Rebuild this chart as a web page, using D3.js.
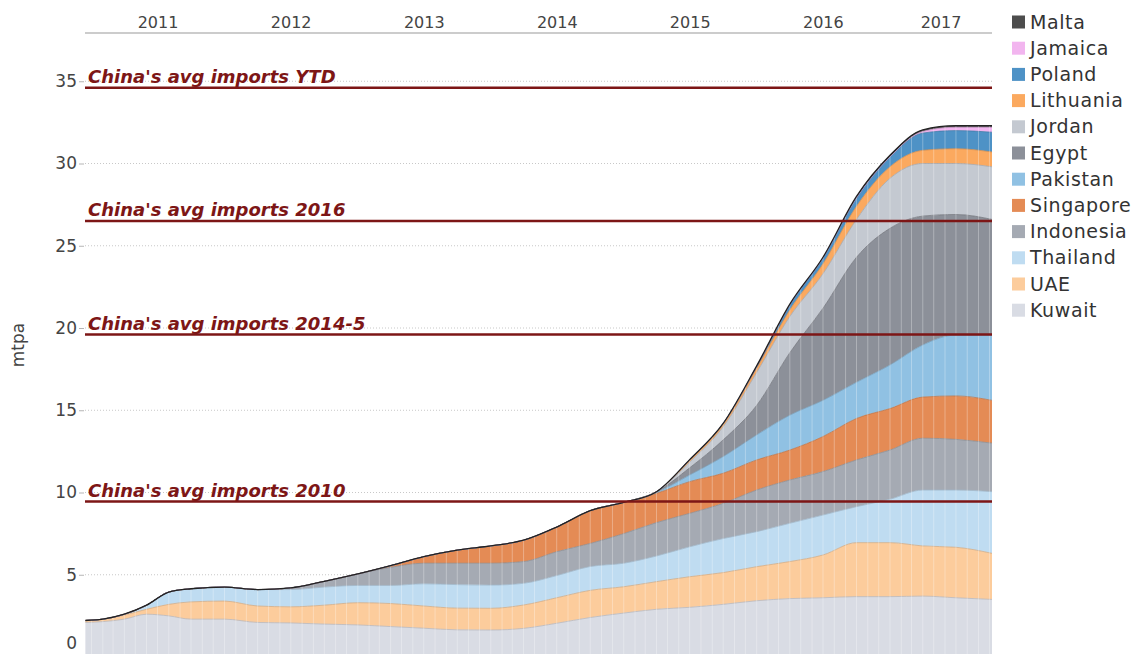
<!DOCTYPE html>
<html>
<head>
<meta charset="utf-8">
<script src="https://cdn.jsdelivr.net/npm/d3@7"></script>
<style>
  html, body { margin: 0; padding: 0; background: #fff; }
  #chartContainer { width: 1142px; height: 654px; }
  svg { display: block; }
</style>
</head>
<body>
<div id="chartContainer"></div>
<script>
// LNG exporters stacked by country, mtpa
const dates = [
  "2010-12-15", "2011-02-01", "2011-04-01", "2011-06-01", "2011-08-01", "2011-10-01",
  "2012-01-01", "2012-04-01", "2012-07-01", "2012-10-01", "2013-01-01", "2013-04-01",
  "2013-07-01", "2013-10-01", "2014-01-01", "2014-04-01", "2014-07-01", "2014-10-01",
  "2015-01-01", "2015-04-01", "2015-07-01", "2015-10-01", "2016-01-01", "2016-04-01",
  "2016-07-01", "2016-10-01", "2017-01-01", "2017-04-01", "2017-07-01", "2017-10-08"
];

// bottom -> top stacking order
const kuwait    = [2.1, 2.15, 2.3, 2.6, 2.5, 2.3, 2.3, 2.1, 2.07, 2.0, 1.95, 1.85, 1.75, 1.65, 1.64, 1.74, 2.05, 2.4, 2.67, 2.9, 3.02, 3.2, 3.42, 3.55, 3.6, 3.67, 3.67, 3.7, 3.6, 3.5];
const uae       = [0.12, 0.15, 0.25, 0.3, 0.7, 1.05, 1.1, 1.0, 0.98, 1.15, 1.35, 1.4, 1.35, 1.32, 1.32, 1.42, 1.55, 1.65, 1.6, 1.68, 1.86, 1.93, 2.07, 2.25, 2.6, 3.28, 3.28, 3.05, 3.07, 2.8];
const thailand  = [0, 0, 0.05, 0.25, 0.75, 0.8, 0.85, 1.0, 1.05, 1.1, 1.05, 1.1, 1.35, 1.43, 1.41, 1.32, 1.35, 1.45, 1.43, 1.56, 1.82, 2.07, 2.13, 2.33, 2.43, 2.19, 2.64, 3.4, 3.48, 3.75];
const indonesia = [0, 0, 0, 0, 0, 0, 0, 0, 0.1, 0.35, 0.7, 1.1, 1.25, 1.3, 1.33, 1.32, 1.45, 1.4, 1.8, 2.03, 2.03, 2.14, 2.53, 2.63, 2.64, 2.84, 2.99, 3.15, 3.08, 2.95];
const singapore = [0, 0, 0, 0, 0, 0, 0, 0, 0, 0, 0, 0.1, 0.4, 0.8, 1.05, 1.3, 1.5, 2.0, 1.9, 1.78, 1.93, 1.83, 1.83, 1.82, 2.13, 2.52, 2.52, 2.5, 2.64, 2.6];
const pakistan  = [0, 0, 0, 0, 0, 0, 0, 0, 0, 0, 0, 0, 0, 0, 0, 0, 0, 0, 0, 0.05, 0.4, 1.01, 1.52, 2.12, 2.2, 2.2, 2.65, 3.17, 3.7, 3.97];
const egypt     = [0, 0, 0, 0, 0, 0, 0, 0, 0, 0, 0, 0, 0, 0, 0, 0, 0, 0, 0, 0.05, 0.44, 1.02, 1.8, 3.8, 5.6, 7.6, 8.31, 7.83, 7.33, 7.03];
const jordan    = [0, 0, 0, 0, 0, 0, 0, 0, 0, 0, 0, 0, 0, 0, 0, 0, 0, 0, 0, 0, 0.35, 0.8, 2.0, 2.2, 2.1, 2.3, 3.04, 3.2, 3.1, 3.2];
const lithuania = [0, 0, 0, 0, 0, 0, 0, 0, 0, 0, 0, 0, 0, 0, 0, 0, 0, 0, 0, 0, 0.1, 0.15, 0.25, 0.4, 0.6, 0.8, 0.7, 0.8, 0.9, 0.9];
const poland    = [0, 0, 0, 0, 0, 0, 0, 0, 0, 0, 0, 0, 0, 0, 0, 0, 0, 0, 0, 0, 0.05, 0.05, 0.1, 0.3, 0.35, 0.5, 0.6, 1.05, 1.1, 1.2];
const jamaica   = [0, 0, 0, 0, 0, 0, 0, 0, 0, 0, 0, 0, 0, 0, 0, 0, 0, 0, 0, 0, 0, 0, 0, 0, 0, 0, 0, 0.1, 0.2, 0.3];
const malta     = [0, 0, 0, 0, 0, 0, 0, 0, 0, 0, 0, 0, 0, 0, 0, 0, 0, 0, 0, 0, 0, 0, 0.05, 0.05, 0.05, 0.1, 0.1, 0.1, 0.1, 0.1];

const countries = ["Kuwait", "UAE", "Thailand", "Indonesia", "Singapore", "Pakistan", "Egypt", "Jordan", "Lithuania", "Poland", "Jamaica", "Malta"];
const seriesValues = [kuwait, uae, thailand, indonesia, singapore, pakistan, egypt, jordan, lithuania, poland, jamaica, malta];
const colors = ["#d9dce4", "#fccc9c", "#bfdcf1", "#a5aab3", "#e48b55", "#90c1e3", "#8c9099", "#c4c9d1", "#fba95f", "#4e92c6", "#f2b5ef", "#4d4d4d"];

// reference lines
const refLabels = ["China's avg imports YTD", "China's avg imports 2016", "China's avg imports 2014-5", "China's avg imports 2010"];
const refValues = [34.6, 26.5, 19.6, 9.45];

const yearLabels = [2011, 2012, 2013, 2014, 2015, 2016, 2017];
const yTicks = [0, 5, 10, 15, 20, 25, 30, 35];

function createChart() {
    const INK = "#444";
    const RED = "#7d1616";
    const FONT = "DejaVu Sans, sans-serif";

    const width = 1142, height = 654;
    const left = 85, right = 992;

    const parse = d3.timeParse("%Y-%m-%d");
    const rows = dates.map((d, i) => {
        const row = { date: parse(d) };
        countries.forEach((c, k) => { row[c] = seriesValues[k][i]; });
        return row;
    });

    const x = d3.scaleTime()
        .domain([parse("2010-12-14"), parse("2017-10-08")])
        .range([left, right]);
    const y = d3.scaleLinear().domain([0, 35]).range([657, 81.25]);

    const svg = d3.select("#chartContainer").append("svg")
        .attr("width", width)
        .attr("height", height)
        .style("background", "#fff");

    // dotted gridlines
    svg.append("g")
        .selectAll("line")
        .data(yTicks.filter(t => t > 0))
        .enter()
        .append("line")
        .attr("x1", left).attr("x2", right)
        .attr("y1", d => y(d)).attr("y2", d => y(d))
        .attr("stroke", "#c8c8c8")
        .attr("stroke-width", 1)
        .attr("stroke-dasharray", "1,2");

    // stacked areas
    const stack = d3.stack().keys(countries);
    const layers = stack(rows);

    const area = d3.area()
        .x(d => x(d.data.date))
        .y0(d => y(d[0]))
        .y1(d => y(d[1]))
        .curve(d3.curveMonotoneX);

    const topLine = d3.line()
        .x(d => x(d.data.date))
        .y(d => y(d[1]))
        .curve(d3.curveMonotoneX);

    svg.append("defs").append("clipPath")
        .attr("id", "stackClip")
        .append("path")
        .attr("d", d3.area()
            .x(d => x(d.data.date))
            .y0(y(0))
            .y1(d => y(d[1]))
            .curve(d3.curveMonotoneX)(layers[layers.length - 1]));

    const g = svg.append("g");
    g.selectAll("path.layer")
        .data(layers)
        .enter()
        .append("path")
        .attr("class", "layer")
        .attr("d", area)
        .attr("fill", (d, i) => colors[i]);

    // thin darker edge on top of each band
    g.selectAll("path.edge")
        .data(layers.slice(0, -1))
        .enter()
        .append("path")
        .attr("class", "edge")
        .attr("d", topLine)
        .attr("fill", "none")
        .attr("stroke", (d, i) => d3.color(colors[i]).darker(0.5))
        .attr("stroke-opacity", 0.8)
        .attr("stroke-width", 1);

    // monthly column seams
    const months = d3.timeMonth.range(x.domain()[0], x.domain()[1]);
    svg.append("g")
        .attr("clip-path", "url(#stackClip)")
        .selectAll("line")
        .data(months)
        .enter()
        .append("line")
        .attr("x1", d => x(d)).attr("x2", d => x(d))
        .attr("y1", 0).attr("y2", height)
        .attr("stroke", "#fff")
        .attr("stroke-opacity", 0.3)
        .attr("stroke-width", 1);

    // total outline
    svg.append("path")
        .attr("d", topLine(layers[layers.length - 1]))
        .attr("fill", "none")
        .attr("stroke", "#222")
        .attr("stroke-width", 1.3);

    // y axis
    const yAxis = svg.append("g")
        .attr("transform", `translate(${left - 1},0)`)
        .call(d3.axisLeft(y).tickValues(yTicks).tickSize(5).tickPadding(2));
    yAxis.select(".domain").remove();
    yAxis.selectAll(".tick line").attr("stroke", "#b5b5b5");
    yAxis.selectAll(".tick text")
        .style("font-family", FONT)
        .style("font-size", "17px")
        .attr("fill", INK)
        .attr("dy", d => d === 0 ? "-0.5em" : "0.32em");

    svg.append("text")
        .attr("transform", `translate(24,${(y(0) + y(35)) / 2 - 24}) rotate(-90)`)
        .attr("text-anchor", "middle")
        .style("font-family", FONT)
        .style("font-size", "17px")
        .attr("fill", INK)
        .text("mtpa");

    // year axis on top
    svg.append("line")
        .attr("x1", left).attr("x2", right)
        .attr("y1", 33).attr("y2", 33)
        .attr("stroke", "#999")
        .attr("stroke-width", 1);

    svg.append("g")
        .selectAll("text")
        .data(yearLabels)
        .enter()
        .append("text")
        .attr("x", yr => {
            const a = Math.max(x(new Date(yr, 0, 1)), left);
            const b = Math.min(x(new Date(yr + 1, 0, 1)), right);
            return (a + b) / 2;
        })
        .attr("y", 28)
        .attr("text-anchor", "middle")
        .style("font-family", FONT)
        .style("font-size", "16px")
        .attr("fill", INK)
        .text(d => d);

    // reference lines with labels
    const refs = svg.append("g");
    refs.selectAll("line")
        .data(refValues)
        .enter()
        .append("line")
        .attr("x1", left).attr("x2", right)
        .attr("y1", d => y(d)).attr("y2", d => y(d))
        .attr("stroke", RED)
        .attr("stroke-width", 2.5);
    refs.selectAll("text")
        .data(refValues)
        .enter()
        .append("text")
        .attr("x", 88)
        .attr("y", d => y(d) - 5)
        .style("font-family", FONT)
        .style("font-size", "18px")
        .style("font-weight", "bold")
        .style("font-style", "italic")
        .attr("fill", RED)
        .text((d, i) => refLabels[i]);

    // legend, top entry = top of stack
    const legend = svg.append("g").attr("transform", "translate(1012,22)");
    const entries = countries.map((c, i) => ({ name: c, color: colors[i] })).reverse();
    const item = legend.selectAll("g")
        .data(entries)
        .enter()
        .append("g")
        .attr("transform", (d, i) => `translate(0,${i * 26.2})`);
    item.append("rect")
        .attr("x", 0).attr("y", -6.5)
        .attr("width", 13).attr("height", 13)
        .attr("fill", d => d.color);
    item.append("text")
        .attr("x", 18)
        .attr("y", 0)
        .attr("dy", "0.35em")
        .style("font-family", FONT)
        .style("font-size", "19px")
        .style("letter-spacing", "0.6px")
        .attr("fill", "#333")
        .text(d => d.name);
}

createChart();
</script>
</body>
</html>
